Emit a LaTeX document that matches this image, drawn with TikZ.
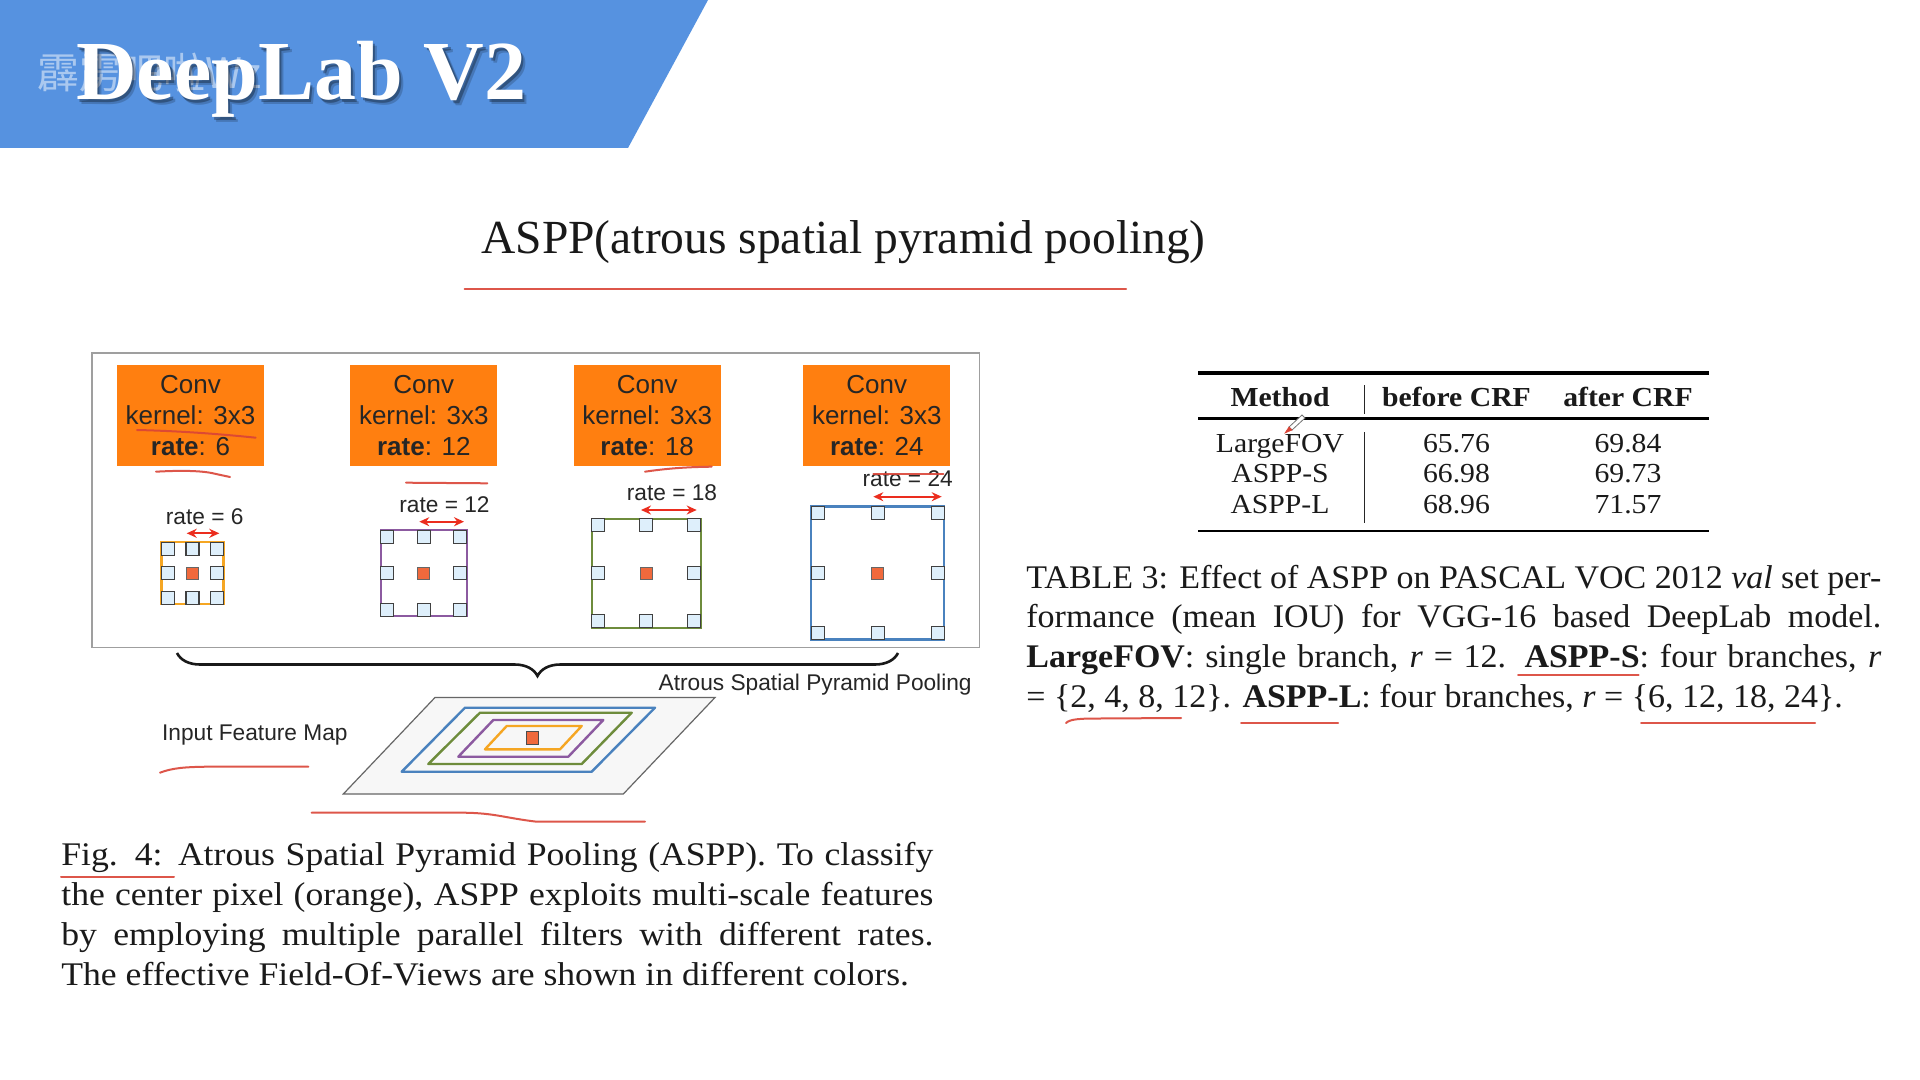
\documentclass[tikz,border=0pt]{standalone}
\usepackage{fontspec}
\setmainfont{Liberation Serif}
\newfontfamily\sansf{Liberation Sans}
\newfontfamily\cjkf{Noto Sans CJK SC}
\newfontfamily\pala[FakeStretch=1.08]{Liberation Serif}
\newfontfamily\palb[FakeStretch=1.03]{Liberation Serif}
\usetikzlibrary{arrows.meta,decorations.pathreplacing}

\definecolor{banner}{RGB}{86,146,224}
\definecolor{convorange}{RGB}{255,127,16}
\definecolor{fovorange}{RGB}{245,166,35}
\definecolor{fovpurple}{RGB}{140,90,160}
\definecolor{fovgreen}{RGB}{110,140,60}
\definecolor{fovblue}{RGB}{74,130,190}
\definecolor{cellfill}{RGB}{222,239,251}
\definecolor{centerfill}{RGB}{240,105,60}
\definecolor{pen}{RGB}{218,68,55}
\definecolor{arrowred}{RGB}{235,45,30}
\definecolor{inktext}{RGB}{26,26,26}

% one dilated 3x3 filter: centre x, centre y, half size, colour
\newcommand\fovgrid[4]{%
  \draw[#4, line width=1.1pt] (#1-#3,#2-#3) rectangle (#1+#3,#2+#3);
  \foreach \i in {-1,0,1}{%
    \foreach \j in {-1,0,1}{%
      \pgfmathtruncatemacro\isc{(\i==0)&&(\j==0)}%
      \ifnum\isc=1
        \filldraw[fill=centerfill, draw=black!60, line width=0.5pt]
          (#1-6,#2-6) rectangle (#1+6,#2+6);
      \else
        \filldraw[fill=cellfill, draw=black!75, line width=0.6pt]
          ({#1+\i*(#3-6.5)-6.5},{#2+\j*(#3-6.5)-6.5}) rectangle
          ({#1+\i*(#3-6.5)+6.5},{#2+\j*(#3-6.5)+6.5});
      \fi
    }%
  }%
}

\begin{document}
\begin{tikzpicture}[x=0.5pt,y=-0.5pt,
  convbox/.style={fill=convorange, minimum width=73.5pt, minimum height=50.5pt,
    inner sep=0pt, align=center, text=black!85,
    font=\sansf\fontsize{13}{15.5}\selectfont},
  lbl/.style={inner sep=0pt, text=black!85, font=\sansf\fontsize{11.35}{13}\selectfont},
  rateline/.style={arrowred, line width=1pt,
    {Stealth[length=5pt,width=4.5pt]}-{Stealth[length=5pt,width=4.5pt]}},
  penmark/.style={pen, line width=1pt, line cap=round, line join=round, opacity=0.9},
  fov/.style={line width=1.2pt, line join=round},
  caption/.style={inner sep=0pt, anchor=base west, text=inktext,
    font=\pala\fontsize{16.5}{20}\selectfont},
  tcaption/.style={caption, font=\palb\fontsize{16.5}{20}\selectfont},
  tabtext/.style={inner sep=0pt, anchor=base, text=inktext,
    font=\pala\fontsize{13.75}{16}\selectfont},
  tabhead/.style={tabtext, font=\pala\bfseries\fontsize{13.75}{16}\selectfont},
]
\useasboundingbox (0,0) rectangle (1920,1080);
\fill[white] (0,0) rectangle (1920,1080);

% ---------- header banner ----------
\fill[banner] (0,0) -- (708,0) -- (628,148) -- (0,148) -- cycle;
\node[inner sep=0pt, anchor=base west, text=white, opacity=0.5,
  font=\cjkf\fontsize{21}{24}\selectfont] (wm) at (37,89) {霹雳吧啦Wz};
\node[inner sep=0pt, anchor=base west, text=black, opacity=0.18,
  font=\bfseries\fontsize{42}{48}\selectfont] (titleshadowb) at (80,105) {DeepLab V2};
\node[inner sep=0pt, anchor=base west, text=black, opacity=0.3,
  font=\bfseries\fontsize{42}{48}\selectfont] (titleshadow) at (78,103) {DeepLab V2};
\node[inner sep=0pt, anchor=base west, text=white,
  font=\bfseries\fontsize{42}{48}\selectfont] (title) at (75.8,100) {DeepLab V2};

% ---------- section heading ----------
\node[inner sep=0pt, anchor=base west, text=black!90,
  font=\fontsize{23.75}{28}\selectfont] (heading) at (481,253.5)
  {ASPP(atrous spatial pyramid pooling)};
\draw[penmark] (464.5,289.3) -- (1126,289.3);

% ---------- ASPP figure ----------
\draw[gray!75, line width=0.6pt] (92,353) rectangle (979.5,647.5);

\node[convbox] (c6)  at (190.5,415.5) {Conv\\kernel: 3x3\\\textbf{rate}: 6};
\node[convbox] (c12) at (423.8,415.5) {Conv\\kernel: 3x3\\\textbf{rate}: 12};
\node[convbox] (c18) at (647.2,415.5) {Conv\\kernel: 3x3\\\textbf{rate}: 18};
\node[convbox] (c24) at (876.8,415.5) {Conv\\kernel: 3x3\\\textbf{rate}: 24};

\fovgrid{192.5}{573.2}{31}{fovorange}
\fovgrid{423.8}{573.3}{43}{fovpurple}
\fovgrid{646.2}{573.2}{54.5}{fovgreen}
\fovgrid{877.7}{573}{66.5}{fovblue}

\node[lbl, anchor=base] (r6)  at (204.7,524.3) {rate = 6};
\node[lbl, anchor=base] (r12) at (444.5,512.7) {rate = 12};
\node[lbl, anchor=base] (r18) at (672,500.7) {rate = 18};
\node[lbl, anchor=base] (r24) at (907.7,486) {rate = 24};

\draw[rateline] (186.7,533.3) -- (219.3,533.3);
\draw[rateline] (419.3,521.7) -- (464,521.7);
\draw[rateline] (641,510) -- (696.7,510);
\draw[rateline] (873.3,496.7) -- (941.7,496.7);

% brace gathering the four branches
\coordinate (braceR) at (898,653);
\coordinate (braceL) at (177,653);
\draw[black!90, line width=1.3pt, decorate,
  decoration={brace, amplitude=11.5pt, aspect=0.5}] (braceR) -- (braceL);
\node[lbl, anchor=base west] (asppname) at (658.3,690) {Atrous Spatial Pyramid Pooling};

% input feature map with the nested fields of view
\filldraw[fill=black!3, draw=black!60, line width=0.6pt]
  (435,697.5) -- (715,697.5) -- (623.3,794) -- (343.3,794) -- cycle;
\draw[fov, fovblue]   (465,707.7) -- (655,707.7) -- (591.7,771.7) -- (401.7,771.7) -- cycle;
\draw[fov, fovgreen]  (480,712.7) -- (631.7,712.7) -- (581.7,764) -- (428.3,764) -- cycle;
\draw[fov, fovpurple] (493.3,720) -- (603.3,720) -- (568.3,756.7) -- (458.3,756.7) -- cycle;
\draw[fov, fovorange] (506.7,726) -- (581.7,726) -- (560,749.3) -- (485,749.3) -- cycle;
\filldraw[fill=centerfill, draw=black!70, line width=0.5pt] (526.7,731.7) rectangle (538.3,744);
\node[lbl, anchor=base west] (ifm) at (161.7,740) {Input Feature Map};

% hand-drawn pen marks on the figure
\draw[penmark] (137,430) .. controls (180,431) and (220,434) .. (255.7,437.7);
\draw[penmark] (156,471.7) .. controls (185,470) and (205,471) .. (216,474) -- (230,477);
\draw[penmark] (406,482.7) -- (487.3,483.3);
\draw[penmark] (645,471.7) .. controls (670,468) and (690,467) .. (711.7,466.7);
\draw[penmark] (873.3,474) -- (943.3,474);
\draw[penmark] (160,772.7) .. controls (172,768) and (185,767) .. (206.7,766.7) -- (308.3,766.7);
\draw[penmark] (311.7,812.7) -- (463.3,812.7) .. controls (495,813) and (505,818) .. (536.7,821.7) -- (645,821.7);

% ---------- figure caption ----------
\node[caption] (fc1) at (61,865) {\makebox[436pt][s]{Fig. 4: Atrous Spatial Pyramid Pooling (ASPP). To classify}};
\node[caption] (fc2) at (61,905) {\makebox[436pt][s]{the center pixel (orange), ASPP exploits multi-scale features}};
\node[caption] (fc3) at (61,945) {\makebox[436pt][s]{by employing multiple parallel filters with different rates.}};
\node[caption] (fc4) at (61,985) {The effective Field-Of-Views are shown in different colors.};
\draw[penmark] (61,877) -- (174,877);

% ---------- results table ----------
\draw[black, line width=2pt] (1198,372.7) -- (1708.6,372.7);
\draw[black, line width=1.5pt] (1198,418.3) -- (1708.6,418.3);
\draw[black, line width=1.2pt] (1198,530.7) -- (1708.6,530.7);
\draw[black!85, line width=0.5pt] (1364,385) -- (1364,414);
\draw[black!85, line width=0.5pt] (1364,432) -- (1364,523);

\node[tabhead] (hm) at (1280,406.7) {Method};
\node[tabhead] (hb) at (1456.5,406.7) {before CRF};
\node[tabhead] (ha) at (1628,406.7) {after CRF};

\node[tabtext] (m1) at (1280,452) {LargeFOV};
\node[tabtext] (b1) at (1456.5,452) {65.76};
\node[tabtext] (a1) at (1628,452) {69.84};
\node[tabtext] (m2) at (1280,482.5) {ASPP-S};
\node[tabtext] (b2) at (1456.5,482.5) {66.98};
\node[tabtext] (a2) at (1628,482.5) {69.73};
\node[tabtext] (m3) at (1280,513) {ASPP-L};
\node[tabtext] (b3) at (1456.5,513) {68.96};
\node[tabtext] (a3) at (1628,513) {71.57};

% pen cursor resting on the table
\filldraw[fill=white, draw=black!55, line width=0.4pt]
  (1302,415) -- (1305,418) -- (1292,430) -- (1289,427) -- cycle;
\filldraw[fill=pen, draw=pen, line width=0.3pt] (1289,427) -- (1292,430) -- (1285,433) -- cycle;

% ---------- table caption ----------
\node[tcaption] (tc1) at (1026,588) {\makebox[427.5pt][s]{TABLE 3: Effect of ASPP on PASCAL VOC 2012 \textit{val} set per-}};
\node[tcaption] (tc2) at (1026,627.5) {\makebox[427.5pt][s]{formance (mean IOU) for VGG-16 based DeepLab model.}};
\node[tcaption] (tc3) at (1026,667) {\makebox[427.5pt][s]{\textbf{LargeFOV}: single branch, \textit{r} = 12. \textbf{ASPP-S}: four branches, \textit{r}}};
\node[tcaption] (tc4) at (1026,707) {= \textbraceleft2, 4, 8, 12\textbraceright. \textbf{ASPP-L}: four branches, \textit{r} = \textbraceleft6, 12, 18, 24\textbraceright.};

\draw[penmark] (1518,675) -- (1638.5,675);
\draw[penmark] (1066,723) .. controls (1070,719) and (1080,718.5) .. (1100,718.5) -- (1181,718);
\draw[penmark] (1241,722.7) -- (1338,722.7);
\draw[penmark] (1641,723.3) -- (1815,723.3);
\end{tikzpicture}
\end{document}
